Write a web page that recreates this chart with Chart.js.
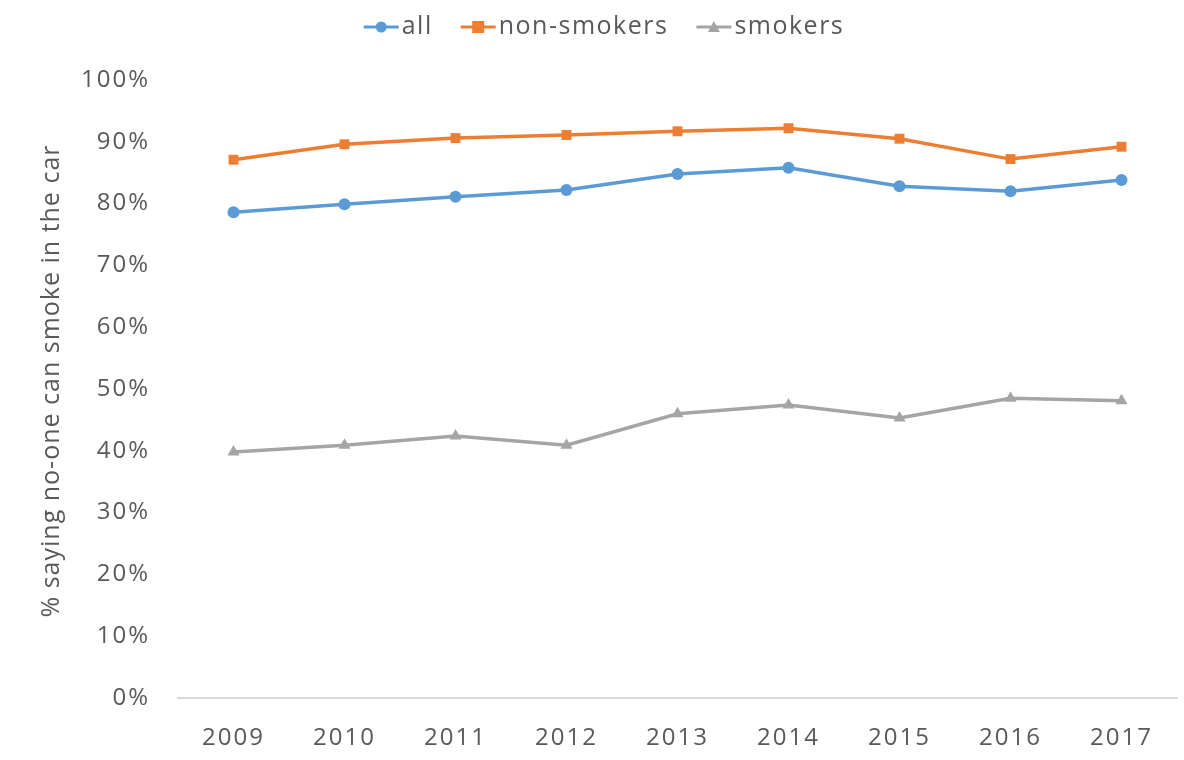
<!DOCTYPE html>
<html>
<head>
<meta charset="utf-8">
<script src="https://cdn.jsdelivr.net/npm/chart.js@4.4.1/dist/chart.umd.min.js"></script>
<style>
html,body{margin:0;padding:0;background:#fff;}
#wrap{width:1184px;height:760px;}
</style>
</head>
<body>
<div id="wrap"><canvas id="c" width="1184" height="760"></canvas></div>
<script>
const years = ['2009','2010','2011','2012','2013','2014','2015','2016','2017'];
const allValues = [78.6, 79.9, 81.1, 82.2, 84.8, 85.8, 82.8, 82.0, 83.8];
const nonSmokers = [87.1, 89.6, 90.6, 91.1, 91.7, 92.2, 90.5, 87.2, 89.2];
const smokers = [39.8, 40.9, 42.4, 40.9, 46.0, 47.4, 45.3, 48.5, 48.1];
const seriesNames = ['all', 'non-smokers', 'smokers'];
const yTickValues = [0,10,20,30,40,50,60,70,80,90,100];
const yTitle = '% saying no-one can smoke in the car';

const colors = ['#5B9BD5', '#ED7D31', '#A5A5A5'];
const styles = ['circle', 'rect', 'triangle'];
const radii = [6, 7, 7];

const FONT = '"Open Sans", sans-serif';
const TXT = '#595959';

const textPlugin = {
  id: 'customText',
  beforeDraw(chart) {
    chart.ctx.letterSpacing = '2px';
  },
  afterDraw(chart) {
    const ctx = chart.ctx;
    ctx.save();
    // legend
    ctx.letterSpacing = '1.5px';
    ctx.font = '25px ' + FONT;
    ctx.textBaseline = 'middle';
    const y = 27;
    const lineLen = 35, gap = 3, itemGap = 28;
    let widths = seriesNames.map(n => lineLen + gap + ctx.measureText(n).width);
    let total = widths.reduce((a,b)=>a+b,0) + itemGap*(seriesNames.length-1);
    let x = 604 - total/2;
    seriesNames.forEach((n,i) => {
      ctx.strokeStyle = colors[i];
      ctx.lineWidth = 3;
      ctx.beginPath(); ctx.moveTo(x, y); ctx.lineTo(x+lineLen, y); ctx.stroke();
      ctx.fillStyle = colors[i];
      const cx = x + lineLen/2;
      ctx.beginPath();
      if (styles[i]==='circle') { ctx.arc(cx, y, 5.5, 0, Math.PI*2); }
      else if (styles[i]==='rect') { ctx.rect(cx-6, y-6, 12, 12); }
      else { ctx.moveTo(cx, y-6); ctx.lineTo(cx+6, y+5); ctx.lineTo(cx-6, y+5); ctx.closePath(); }
      ctx.fill();
      ctx.fillStyle = TXT;
      ctx.textAlign = 'left';
      ctx.fillText(n, x + lineLen + gap, y);
      x += widths[i] + itemGap;
    });
    // y axis title
    ctx.letterSpacing = '1px';
    ctx.font = '25px ' + FONT;
    ctx.translate(52, 381);
    ctx.rotate(-Math.PI/2);
    ctx.textAlign = 'center';
    ctx.textBaseline = 'middle';
    ctx.fillStyle = TXT;
    ctx.fillText(yTitle, 0, 0);
    ctx.restore();
  }
};

const dataArrays = [allValues, nonSmokers, smokers];
const datasets = dataArrays.map((d, i) => ({
  label: seriesNames[i],
  data: d,
  borderColor: colors[i],
  backgroundColor: colors[i],
  borderWidth: 3.5,
  pointStyle: styles[i],
  pointRadius: radii[i],
  pointHoverRadius: radii[i],
  pointBorderWidth: 0,
  tension: 0
}));

new Chart(document.getElementById('c'), {
  type: 'line',
  data: { labels: years, datasets },
  options: {
    responsive: false,
    animation: false,
    devicePixelRatio: 1,
    layout: { padding: { top: 80, right: 3, left: 0, bottom: 0 } },
    plugins: { legend: { display: false }, tooltip: { enabled: false } },
    scales: {
      x: {
        offset: true,
        grid: { display: false, drawTicks: false },
        border: { display: true, color: '#D9D9D9', width: 2 },
        ticks: { color: TXT, font: { family: FONT, size: 24 }, padding: 26, maxRotation: 0 },
        afterFit(s) { s.height = 62; }
      },
      y: {
        min: 0, max: 100,
        afterBuildTicks(s) { s.ticks = yTickValues.map(v => ({ value: v })); },
        grid: { display: false, drawTicks: false },
        border: { display: false },
        ticks: { color: TXT, font: { family: FONT, size: 24 }, padding: 28, callback: v => v + '%' },
        afterFit(s) { s.width = 178; }
      }
    }
  },
  plugins: [textPlugin]
});
</script>
</body>
</html>
